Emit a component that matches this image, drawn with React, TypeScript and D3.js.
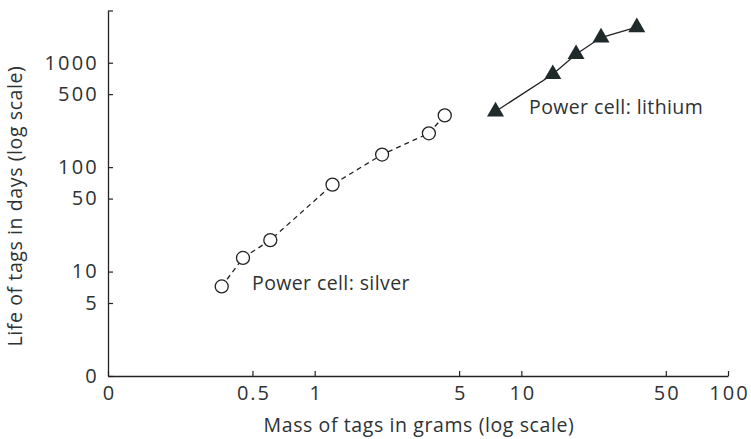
import { useEffect, useRef } from "react";
import * as d3 from "d3";

// values (grams, days)
const silverMass = [0.355, 0.45, 0.61, 1.22, 2.12, 3.57, 4.26];
const silverLife = [7.2, 13.5, 20, 68, 132, 211, 313];
const lithiumMass = [7.5, 14.2, 18.4, 24.3, 36.2];
const lithiumLife = [341, 776, 1206, 1742, 2187];

const xTicks = [0.1, 0.5, 1, 5, 10, 50, 100];
const xTickLabels = ["0", "0.5", "1", "5", "10", "50", "100"];
const yTicks = [1, 5, 10, 50, 100, 500, 1000, Math.pow(10, 3.5)];
const yTickLabels = ["0", "5", "10", "50", "100", "500", "1000", ""];

const FONT = "'Open Sans', sans-serif";
const TEXT = "#2e3233";
const MARK = "#1f2a2a";

export default function App() {
  const svgRef = useRef<SVGSVGElement | null>(null);

  useEffect(() => {
    if (!svgRef.current) return;
    const W = 751, H = 439;
    const svg = d3.select(svgRef.current);
    svg.selectAll("*").remove();
    svg.attr("width", W).attr("height", H).attr("viewBox", `0 0 ${W} ${H}`);

    const x = d3.scaleLog().domain([0.1, 100]).range([108, 728]);
    const y = d3.scaleLog().domain([1, Math.pow(10, 3.5)]).range([376, 10.5]);

    // x axis, ticks pointing inward
    const gx = svg.append("g").attr("transform", `translate(0,${y(1)})`)
      .call(d3.axisBottom(x).tickValues(xTicks).tickSizeInner(-5).tickSizeOuter(0).tickPadding(10)
        .tickFormat((_, i) => xTickLabels[i]));
    gx.select(".domain").attr("stroke", "#222").attr("stroke-width", 1.3);
    gx.selectAll(".tick line").attr("stroke", "#222").attr("stroke-width", 1.2);
    gx.selectAll("text").attr("font-family", FONT).attr("font-size", 20).attr("fill", TEXT)
      .attr("letter-spacing", 2).attr("dx", 1);

    // y axis
    const gy = svg.append("g").attr("transform", `translate(${x(0.1)},0)`)
      .call(d3.axisLeft(y).tickValues(yTicks).tickSizeInner(-5).tickSizeOuter(0).tickPadding(9)
        .tickFormat((_, i) => yTickLabels[i]));
    gy.select(".domain").attr("stroke", "#222").attr("stroke-width", 1.3);
    gy.selectAll(".tick line").attr("stroke", "#222").attr("stroke-width", 1.2);
    gy.selectAll("text").attr("font-family", FONT).attr("font-size", 20).attr("fill", TEXT)
      .attr("letter-spacing", 2.2);

    // axis titles
    svg.append("text").attr("x", 419).attr("y", 432).attr("text-anchor", "middle")
      .attr("font-family", FONT).attr("font-size", 19.5).attr("letter-spacing", 0.6).attr("fill", TEXT)
      .text("Mass of tags in grams (log scale)");
    svg.append("text").attr("transform", "rotate(-90)").attr("x", -206).attr("y", 22)
      .attr("text-anchor", "middle").attr("font-family", FONT).attr("font-size", 19.5)
      .attr("letter-spacing", 0.6).attr("fill", TEXT)
      .text("Life of tags in days (log scale)");

    // silver: dashed line + open circles
    const silver = silverMass.map((m, i) => [x(m), y(silverLife[i])] as [number, number]);
    svg.append("path").datum(silver)
      .attr("d", d3.line())
      .attr("fill", "none").attr("stroke", "#222").attr("stroke-width", 1.3)
      .attr("stroke-dasharray", "5,4");
    svg.selectAll("circle.silver").data(silver).join("circle").attr("class", "silver")
      .attr("cx", (d) => d[0]).attr("cy", (d) => d[1]).attr("r", 6.5)
      .attr("fill", "#fff").attr("stroke", "#222").attr("stroke-width", 1.3);

    // lithium: solid line + filled triangles
    const lithium = lithiumMass.map((m, i) => [x(m), y(lithiumLife[i])] as [number, number]);
    svg.append("path").datum(lithium)
      .attr("d", d3.line())
      .attr("fill", "none").attr("stroke", "#222").attr("stroke-width", 1.3);
    const tri = d3.symbol().type(d3.symbolTriangle).size(125);
    svg.selectAll("path.li").data(lithium).join("path").attr("class", "li")
      .attr("transform", (d) => `translate(${d[0]},${d[1]})`)
      .attr("d", tri()).attr("fill", MARK);

    // series labels
    svg.append("text").attr("x", 252).attr("y", 290)
      .attr("font-family", FONT).attr("font-size", 19.5).attr("letter-spacing", 0.4)
      .attr("fill", TEXT).text("Power cell: silver");
    svg.append("text").attr("x", 529).attr("y", 114)
      .attr("font-family", FONT).attr("font-size", 19.5).attr("letter-spacing", 0.4)
      .attr("fill", TEXT).text("Power cell: lithium");
  }, []);

  return <svg ref={svgRef} style={{ position: "absolute", left: 0, top: 0, display: "block" }} />;
}
